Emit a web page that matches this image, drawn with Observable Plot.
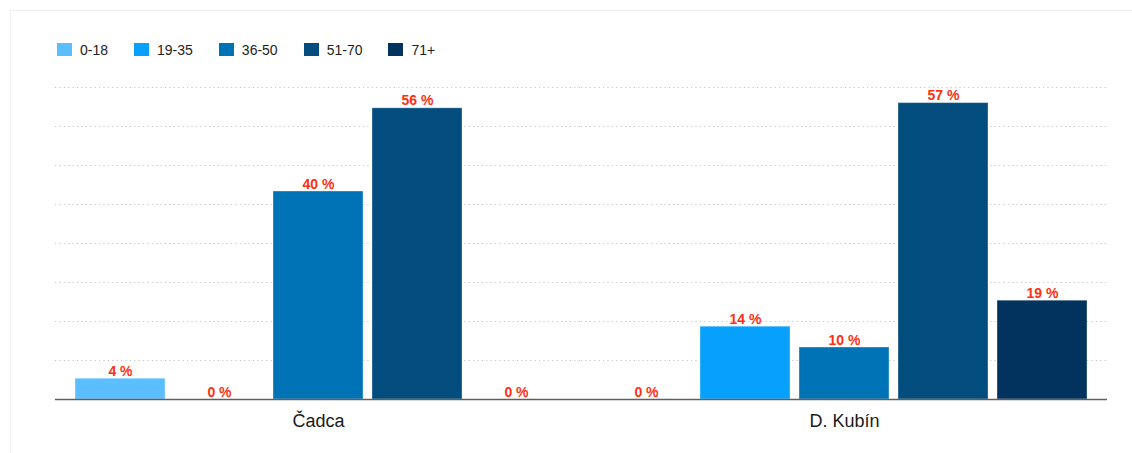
<!DOCTYPE html>
<html>
<head>
<meta charset="utf-8">
<script src="https://cdn.jsdelivr.net/npm/d3@7"></script>
<script src="https://cdn.jsdelivr.net/npm/@observablehq/plot@0.6"></script>
<style>
  html, body { margin: 0; padding: 0; background: #fff; }
  body { font-family: "Liberation Sans", Arial, Helvetica, sans-serif; }
  #wrap { position: relative; width: 1132px; height: 453px; overflow: hidden; }
  #card { position: absolute; left: 10px; top: 10px; width: 1140px; height: 470px; border: 1px solid #efefef; box-sizing: border-box; }
  #legend { position: relative; height: 70px; box-sizing: border-box; padding: 43px 0 0 57px; display: flex; align-items: flex-start; font-size: 14px; color: #222; }
  #legend .item { display: flex; align-items: center; margin-right: 26px; height: 13px; }
  #legend .sw { width: 15px; height: 13px; margin-right: 8px; }
  #chart { position: relative; }
  #chart svg { display: block; }
</style>
</head>
<body>
<div id="wrap">
  <div id="card"></div>
  <div id="legend"></div>
  <div id="chart"></div>
</div>
<script>
const cities = ["Čadca", "D. Kubín"];
const ages = ["0-18", "19-35", "36-50", "51-70", "71+"];
const cadcaValues = [4, 0, 40, 56, 0];
const kubinValues = [0, 14, 10, 57, 19];
const ageColors = ["#5bbfff", "#07a0fd", "#0073b7", "#024c7e", "#02325e"];
const yTicks = [7.5, 15, 22.5, 30, 37.5, 45, 52.5, 60];

const seriesByCity = [cadcaValues, kubinValues];
const data = [];
cities.forEach((city, i) => {
  ages.forEach((age, j) => {
    data.push({city, age, value: seriesByCity[i][j]});
  });
});

// legend
const legend = document.getElementById("legend");
ages.forEach((age, j) => {
  const item = document.createElement("div");
  item.className = "item";
  const sw = document.createElement("span");
  sw.className = "sw";
  sw.style.background = ageColors[j];
  const lab = document.createElement("span");
  lab.textContent = age;
  item.appendChild(sw);
  item.appendChild(lab);
  legend.appendChild(item);
});

const plot = Plot.plot({
  width: 1132,
  height: 383,
  marginTop: 17,
  marginBottom: 54,
  marginLeft: 54,
  marginRight: 25,
  style: {fontFamily: "'Liberation Sans', Arial, Helvetica, sans-serif", background: "transparent"},
  fx: {domain: cities, padding: 0, label: null},
  x: {domain: ages, paddingInner: 0.09, paddingOuter: 0.18, axis: null},
  y: {domain: [0, 60], axis: null},
  color: {domain: ages, range: ageColors},
  marks: [
    Plot.ruleY(yTicks, {stroke: "#c4c4c4", strokeWidth: 1, strokeDasharray: "1.2,3.2"}),
    Plot.barY(data, {fx: "city", x: "age", y: "value", fill: "age", stroke: "#ffffff", strokeOpacity: 0.35, strokeWidth: 1}),
    Plot.ruleY([0], {stroke: "#5f5f5f", strokeWidth: 1.5}),
    Plot.text(data, {fx: "city", x: "age", y: "value", text: d => d.value + " %", lineAnchor: "bottom", dy: -3, fill: "#ff2f12", fontWeight: "bold", fontSize: 14}),
    Plot.axisFx({anchor: "bottom", tickSize: 0, tickPadding: 15, fontSize: 18, label: null, color: "#1a1a1a"})
  ]
});
document.getElementById("chart").appendChild(plot);
</script>
</body>
</html>
